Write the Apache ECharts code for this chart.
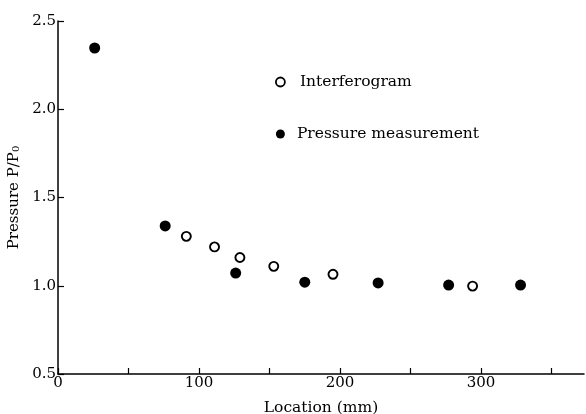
<!DOCTYPE html>
<html>
<head>
<meta charset="utf-8">
<script src="https://cdn.jsdelivr.net/npm/echarts@6/dist/echarts.min.js"></script>
<style>
  html, body { margin: 0; padding: 0; background: #fff; }
  #chart { width: 586px; height: 414px; }
</style>
</head>
<body>
<div id="chart"></div>
<script>
// interferogram (open circles)
const interfX = [91, 111, 129, 153, 195, 294]
const interfY = [1.28, 1.22, 1.16, 1.11, 1.065, 0.998]
// pressure measurement (filled circles)
const pressX = [26, 76, 126, 175, 227, 277, 328]
const pressY = [2.347, 1.339, 1.072, 1.02, 1.016, 1.004, 1.004]

const font = 'DejaVu Serif'
const zip = (xs, ys) => xs.map((x, i) => [x, ys[i]])

const chart = echarts.init(document.getElementById('chart'))
chart.setOption({
  animation: false,
  backgroundColor: '#fff',
  textStyle: { fontFamily: font, color: '#000' },
  grid: { left: 58, top: 21, right: 2, bottom: 40, containLabel: false, outerBoundsMode: 'none' },
  legend: {
    orient: 'vertical',
    left: 270,
    top: 69,
    itemGap: 36,
    itemWidth: 9,
    itemHeight: 9,
    itemStyle: { borderWidth: 1.8 },
    textStyle: { fontFamily: font, fontSize: 15.5, color: '#000' },
    data: [
      { name: 'Interferogram', textStyle: { padding: [0, 0, 0, 10] } },
      { name: 'Pressure measurement', textStyle: { padding: [0, 0, 0, 7] } },
    ],
  },
  xAxis: {
    type: 'value',
    min: 0,
    max: 373,
    interval: 50,
    name: 'Location (mm)',
    nameLocation: 'middle',
    nameGap: 26,
    nameTextStyle: { fontFamily: font, fontSize: 15.5, color: '#000' },
    axisLine: { show: true, lineStyle: { color: '#000', width: 1.5 } },
    axisTick: { show: true, inside: true, length: 6, lineStyle: { color: '#000', width: 1.2 } },
    axisLabel: {
      fontFamily: font,
      fontSize: 15,
      color: '#000',
      margin: 2,
      showMaxLabel: false,
      formatter: (v) => (v % 100 === 0 ? v : ''),
    },
    splitLine: { show: false },
  },
  yAxis: {
    type: 'value',
    min: 0.5,
    max: 2.5,
    interval: 0.5,
    name: '{a|Pressure P/P}{s|0}',
    nameLocation: 'middle',
    nameGap: 30,
    nameRotate: 90,
    nameTextStyle: {
      rich: {
        a: { fontFamily: font, fontSize: 15, color: '#000' },
        s: { fontFamily: font, fontSize: 10, color: '#000', verticalAlign: 'bottom', lineHeight: 12 },
      },
    },
    axisLine: { show: true, lineStyle: { color: '#000', width: 1.5 } },
    axisTick: { show: true, inside: true, length: 6, lineStyle: { color: '#000', width: 1.2 } },
    axisLabel: {
      fontFamily: font,
      fontSize: 15,
      color: '#000',
      margin: 2,
      formatter: (v) => v.toFixed(1),
    },
    splitLine: { show: false },
  },
  series: [
    {
      name: 'Interferogram',
      type: 'scatter',
      symbol: 'circle',
      symbolSize: 9,
      itemStyle: { color: '#fff', borderColor: '#000', borderWidth: 1.9, opacity: 1 },
      data: zip(interfX, interfY),
    },
    {
      name: 'Pressure measurement',
      type: 'scatter',
      symbol: 'circle',
      symbolSize: 11,
      itemStyle: { color: '#000', opacity: 1 },
      data: zip(pressX, pressY),
    },
  ],
})
</script>
</body>
</html>
